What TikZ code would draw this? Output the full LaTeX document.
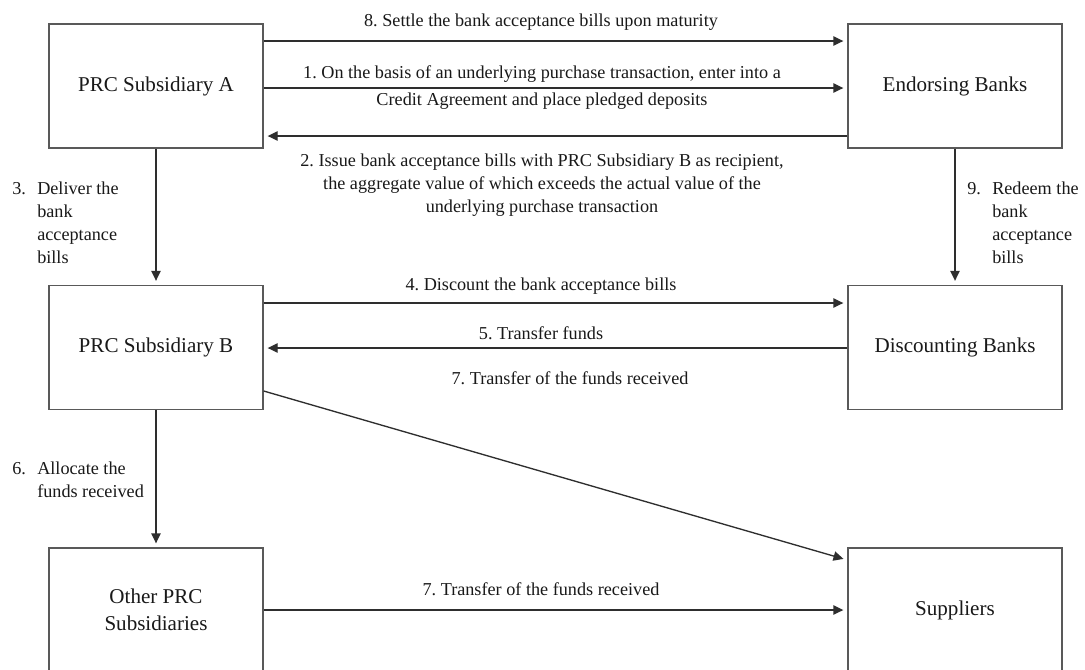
\documentclass[tikz,border=0pt]{standalone}
\usepackage{fontspec}
\setmainfont{Liberation Serif}
\usetikzlibrary{arrows.meta}
\frenchspacing
\begin{document}
\frenchspacing
\begin{tikzpicture}[x=0.75pt,y=-0.75pt,
  box/.style={draw=black!65,line width=1pt,minimum width=160.5pt,minimum height=93pt,inner sep=0pt,align=center,text=black!90,font=\fontsize{15.8}{20.25}\selectfont},
  flow/.style={draw=black!82,line width=1pt,-{Triangle[length=7.5pt,width=7pt]},shorten >=3pt},
  lbl/.style={anchor=base,inner sep=0pt,text=black!90,font=\fontsize{13.65}{17.4}\selectfont},
  side/.style={anchor=base west,inner sep=0pt,text=black!90,font=\fontsize{13.65}{17.4}\selectfont},
]
\clip (0,0) rectangle (1085,669);
\fill[white] (0,0) rectangle (1085,669);
% boxes
\node[box] (A) at (156,86) {PRC Subsidiary A};
\node[box] (E) at (955,86) {Endorsing Banks};
\node[box] (B) at (156,347.5) {PRC Subsidiary B};
\node[box] (D) at (955,347.5) {Discounting Banks};
\node[box] (O) at (156,610) {Other PRC\\Subsidiaries};
\node[box] (S) at (955,610) {Suppliers};
% connectors
\draw[flow] (A.east |- 0,41) -- (E.west |- 0,41);
\draw[flow] (A.east |- 0,88) -- (E.west |- 0,88);
\draw[flow] (E.west |- 0,136) -- (A.east |- 0,136);
\draw[flow] (A.south) -- (B.north);
\draw[flow] (E.south) -- (D.north);
\draw[flow] (B.east |- 0,303) -- (D.west |- 0,303);
\draw[flow] (D.west |- 0,348) -- (B.east |- 0,348);
\draw[flow] (B.east |- 0,391) -- (S.west |- 0,560);
\draw[flow] (B.south) -- (O.north);
\draw[flow] (O.east) -- (S.west);
% labels
\node[lbl] (l8) at (541,26) {8. Settle the bank acceptance bills upon maturity};
\node[lbl] (l1) at (542,78) {\begin{tabular}[t]{@{}c@{}}1. On the basis of an underlying purchase transaction, enter into a\\[3pt] Credit Agreement and place pledged deposits\end{tabular}};
\node[lbl] (l2) at (542,166) {\begin{tabular}[t]{@{}c@{}}2. Issue bank acceptance bills with PRC Subsidiary B as recipient,\\ the aggregate value of which exceeds the actual value of the\\ underlying purchase transaction\end{tabular}};
\node[side] (l3) at (12,194) {\begin{tabular}[t]{@{}p{18.75pt}@{}l@{}}3. & Deliver the\\ & bank\\ & acceptance\\ & bills\end{tabular}};
\node[side] (l9) at (967,194) {\begin{tabular}[t]{@{}p{18.75pt}@{}l@{}}9. & Redeem the\\ & bank\\ & acceptance\\ & bills\end{tabular}};
\node[lbl] (l4) at (541,290) {4. Discount the bank acceptance bills};
\node[lbl] (l5) at (541,339) {5. Transfer funds};
\node[lbl] (l7a) at (570,384) {7. Transfer of the funds received};
\node[side] (l6) at (12,474) {\begin{tabular}[t]{@{}p{18.75pt}@{}l@{}}6. & Allocate the\\ & funds received\end{tabular}};
\node[lbl] (l7b) at (541,595) {7. Transfer of the funds received};
\end{tikzpicture}
\end{document}
